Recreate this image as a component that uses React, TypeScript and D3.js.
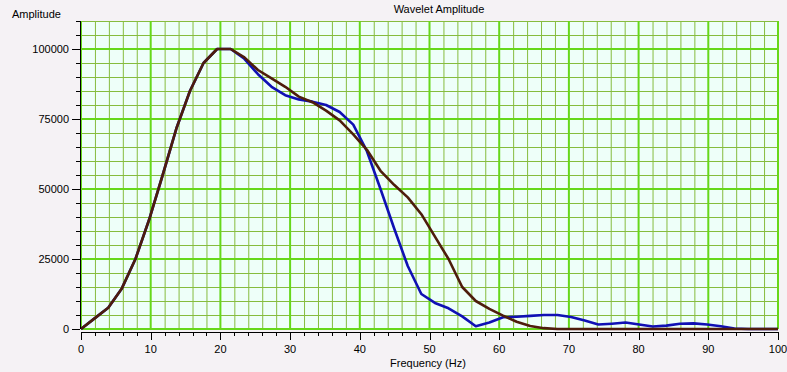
import { useEffect, useRef } from 'react'
import * as d3 from 'd3'

// frequency bins (Hz)
const freqs = [
  0, 1.95, 3.91, 5.86, 7.81, 9.77, 11.72, 13.67, 15.63, 17.58, 19.53, 21.48, 23.44,
  25.39, 27.34, 29.3, 31.25, 33.2, 35.16, 37.11, 39.06, 41.02, 42.97, 44.92, 46.88,
  48.83, 50.78, 52.73, 54.69, 56.64, 58.59, 60.55, 62.5, 64.45, 66.41, 68.36, 70.31,
  72.27, 74.22, 76.17, 78.13, 80.08, 82.03, 83.98, 85.94, 87.89, 89.84, 91.8, 93.75,
  95.7, 97.66, 100,
]

const blueSeries = [
  0, 3800, 7600, 14500, 25000, 39000, 55000, 71500, 85000, 95000, 100000, 100000, 96500,
  91000, 86500, 83500, 82000, 81200, 80000, 77500, 73000, 63500, 50000, 36000, 22500,
  12500, 9300, 7400, 4500, 1000, 2300, 4200, 4400, 4700, 5000, 5000, 4300,
  3000, 1600, 1900, 2300, 1600, 900, 1200, 1900, 2000, 1600, 1000, 200,
  0, 0, 0,
]

const brownSeries = [
  0, 3800, 7600, 14500, 25000, 39000, 55000, 71500, 85000, 95000, 100000, 100000, 97000,
  92500, 89500, 86500, 83000, 81000, 78000, 74500, 69500, 64000, 56500, 51500, 47000,
  41000, 33000, 25000, 15000, 10000, 7200, 4800, 2600, 1100, 300, 0, 0,
  0, 0, 0, 0, 0, 0, 0, 0, 0, 0, 0, 0,
  0, 0, 0,
]

const xTickLabels = [0, 10, 20, 30, 40, 50, 60, 70, 80, 90, 100]
const yTickLabels = [0, 25000, 50000, 75000, 100000]

const FONT = "'Liberation Sans', Arial, sans-serif"

export default function App() {
  const svgRef = useRef<SVGSVGElement>(null)

  useEffect(() => {
    if (!svgRef.current) return
    const svg = d3.select(svgRef.current)
    svg.selectAll('*').remove()

    const x = d3.scaleLinear().domain([0, 100]).range([81, 778])
    const y = d3.scaleLinear().domain([0, 110000]).range([329, 21])

    svg.append('rect').attr('width', 787).attr('height', 372).attr('fill', '#f5f2f5')

    // plot background
    svg.append('rect')
      .attr('x', x(0)).attr('y', y(110000))
      .attr('width', x(100) - x(0)).attr('height', y(0) - y(110000))
      .attr('fill', '#eefff9')

    const g = svg.append('g')

    // minor grid
    d3.range(0, 101, 2).filter(v => v % 10 !== 0).forEach(v => {
      g.append('line')
        .attr('x1', x(v) + 0.5).attr('x2', x(v) + 0.5)
        .attr('y1', y(110000)).attr('y2', y(0))
        .attr('stroke', '#86bc3e').attr('stroke-width', 1)
    })
    d3.range(0, 110001, 5000).filter(v => v % 25000 !== 0).forEach(v => {
      g.append('line')
        .attr('x1', x(0)).attr('x2', x(100))
        .attr('y1', Math.round(y(v)) + 0.5).attr('y2', Math.round(y(v)) + 0.5)
        .attr('stroke', '#86bc3e').attr('stroke-width', 1)
    })
    // major grid
    xTickLabels.forEach(v => {
      g.append('line')
        .attr('x1', x(v)).attr('x2', x(v))
        .attr('y1', y(110000)).attr('y2', y(0))
        .attr('stroke', '#66d81a').attr('stroke-width', 2)
    })
    yTickLabels.forEach(v => {
      g.append('line')
        .attr('x1', x(0)).attr('x2', x(100))
        .attr('y1', Math.round(y(v))).attr('y2', Math.round(y(v)))
        .attr('stroke', '#66d81a').attr('stroke-width', 2)
    })

    const line = (vals: number[]) =>
      d3.line<number>().x((_, i) => x(freqs[i])).y(d => y(d))(vals)

    g.append('path').attr('d', line(blueSeries))
      .attr('fill', 'none').attr('stroke', '#1010b4').attr('stroke-width', 2.6)
      .attr('stroke-linejoin', 'round')
    g.append('path').attr('d', line(brownSeries))
      .attr('fill', 'none').attr('stroke', '#4e1c0c').attr('stroke-width', 2.6)
      .attr('stroke-linejoin', 'round')

    // y axis
    const axisY = svg.append('g')
    axisY.append('line')
      .attr('x1', 80.5).attr('x2', 80.5).attr('y1', y(110000)).attr('y2', y(0))
      .attr('stroke', '#000')
    d3.range(0, 110001, 5000).forEach(v => {
      const major = v % 25000 === 0
      axisY.append('line')
        .attr('x1', major ? 72 : 76).attr('x2', 80)
        .attr('y1', Math.round(y(v)) + 0.5).attr('y2', Math.round(y(v)) + 0.5)
        .attr('stroke', '#000')
    })
    yTickLabels.forEach(v => {
      axisY.append('text')
        .attr('x', 69).attr('y', y(v) + 4)
        .attr('text-anchor', 'end')
        .attr('font-family', FONT).attr('font-size', '11px')
        .text(String(v))
    })

    // x axis
    const axisX = svg.append('g')
    axisX.append('line')
      .attr('x1', x(0)).attr('x2', x(100)).attr('y1', 332.5).attr('y2', 332.5)
      .attr('stroke', '#000')
    d3.range(0, 101, 2).forEach(v => {
      const major = v % 10 === 0
      axisX.append('line')
        .attr('x1', Math.round(x(v)) + 0.5).attr('x2', Math.round(x(v)) + 0.5)
        .attr('y1', 332).attr('y2', major ? 340 : 336)
        .attr('stroke', '#000')
    })
    xTickLabels.forEach(v => {
      axisX.append('text')
        .attr('x', x(v)).attr('y', 353)
        .attr('text-anchor', 'middle')
        .attr('font-family', FONT).attr('font-size', '11px')
        .text(String(v))
    })

    svg.append('text')
      .attr('x', 428).attr('y', 367)
      .attr('text-anchor', 'middle')
      .attr('font-family', FONT).attr('font-size', '11px')
      .text('Frequency (Hz)')

    svg.append('text')
      .attr('x', 12).attr('y', 18)
      .attr('font-family', FONT).attr('font-size', '11px')
      .text('Amplitude')

    svg.append('text')
      .attr('x', 439).attr('y', 13)
      .attr('text-anchor', 'middle')
      .attr('font-family', FONT).attr('font-size', '11px')
      .text('Wavelet Amplitude')
  }, [])

  return (
    <svg
      ref={svgRef}
      width={787}
      height={372}
      style={{ position: 'absolute', left: 0, top: 0, display: 'block' }}
    />
  )
}
